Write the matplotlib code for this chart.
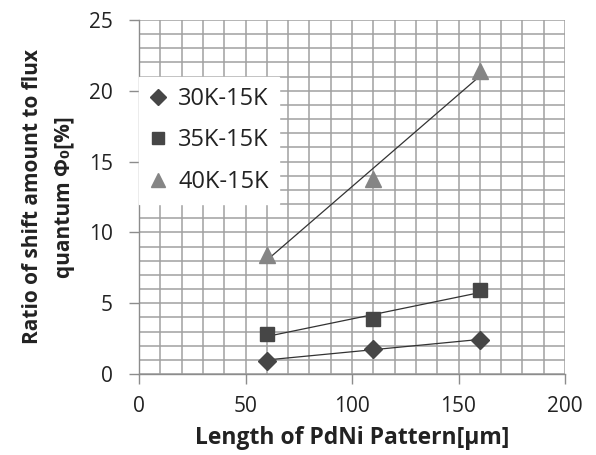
import numpy as np
import matplotlib
matplotlib.use("Agg")
import matplotlib.pyplot as plt
from matplotlib.ticker import MultipleLocator

plt.rcParams['font.family'] = ['Open Sans', 'DejaVu Sans']

# Pattern lengths [um] and shift ratios [%]
lengths = [60, 110, 160]
shift_30k = [0.95, 1.8, 2.4]
shift_35k = [2.8, 3.9, 5.9]
shift_40k = [8.4, 13.8, 21.4]
series_labels = ["30K-15K", "35K-15K", "40K-15K"]
x_ticks = [0, 50, 100, 150, 200]
y_ticks = [0, 5, 10, 15, 20, 25]

fig = plt.figure(figsize=(5.96, 4.55), dpi=100)
ax = fig.add_axes([139 / 596, 1 - 374 / 455, 426 / 596, 354 / 455])

ax.set_xlim(0, 200)
ax.set_ylim(0, 25)
ax.set_xticks(x_ticks)
ax.set_yticks(y_ticks)
ax.xaxis.set_minor_locator(MultipleLocator(10))
ax.yaxis.set_minor_locator(MultipleLocator(1))
ax.grid(True, which='both', color='#a0a0a0', linewidth=1.1)
ax.set_axisbelow(True)

for side in ('top', 'right'):
    ax.spines[side].set_visible(False)
for side in ('left', 'bottom'):
    ax.spines[side].set_color('#8c8c8c')
    ax.spines[side].set_linewidth(1.0)
ax.tick_params(which='major', length=7, width=1.0, color='#8c8c8c',
               labelsize=15, labelcolor='#222222')
ax.tick_params(axis='y', which='major', pad=12)
ax.tick_params(axis='x', which='major', pad=9)
ax.tick_params(which='minor', length=0)

styles = [
    dict(marker='D', ms=9, color='#464646'),
    dict(marker='s', ms=10.5, color='#464646'),
    dict(marker='^', ms=11.5, color='#858585'),
]
xs = np.array(lengths, dtype=float)
for ys, lab, st in zip([shift_30k, shift_35k, shift_40k], series_labels, styles):
    # linear trend line over the measured range
    k, b = np.polyfit(xs, ys, 1)
    ax.plot([xs[0], xs[-1]], [k * xs[0] + b, k * xs[-1] + b],
            color='#333333', linewidth=0.9, zorder=3)
    ax.plot(xs, ys, linestyle='none', marker=st['marker'], ms=st['ms'],
            color=st['color'], mec=st['color'], label=lab, zorder=4)

leg = ax.legend(loc='upper left', bbox_to_anchor=(0.0, 0.839),
                frameon=True, fancybox=False, framealpha=1.0,
                edgecolor='white', fontsize=17, labelspacing=0.74,
                handlelength=0.8, handletextpad=0.45, borderpad=0.42,
                borderaxespad=0, markerscale=0.85)
for t in leg.get_texts():
    t.set_color('#222222')

ax.set_xlabel('Length of PdNi Pattern[μm]', fontsize=16.5, fontweight='bold',
              color='#222222', labelpad=6)
ax.set_ylabel('Ratio of shift amount to flux\nquantum Φ₀[%]', fontsize=15,
              fontweight='bold', color='#222222', labelpad=10, linespacing=1.65)

fig.savefig('out.png', dpi=100)
